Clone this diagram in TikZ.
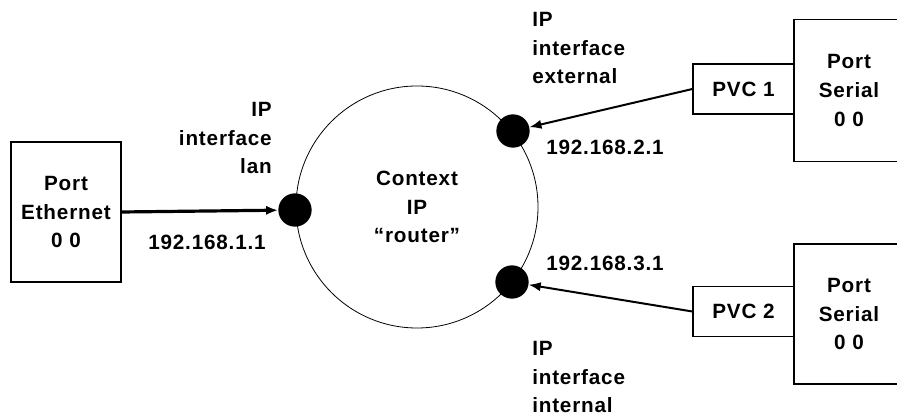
\documentclass[tikz,border=0pt]{standalone}
\usepackage{fontspec}
\setmainfont{Liberation Sans}[LetterSpace=4]
\usetikzlibrary{arrows.meta}
\begin{document}
\begin{tikzpicture}[x=0.75pt,y=-0.75pt,
    every node/.style={font=\fontsize{15.5}{21.5}\selectfont\bfseries},
    portbox/.style={draw,line width=0.9pt,minimum width=82.5pt,minimum height=105pt,align=center,inner sep=0pt},
    pvcbox/.style={draw,line width=0.9pt,minimum width=75.75pt,minimum height=37.5pt,inner sep=0pt},
    ipdot/.style={circle,fill=black,minimum size=25pt,inner sep=0pt},
    lbl/.style={inner sep=0pt},
    link/.style={-{Latex[length=9pt,width=7pt]}}]
    \useasboundingbox (0,0) rectangle (897,416);
    \node[portbox] (eth) at (66,212) {Port\\Ethernet\\0 0};
    \node[portbox,minimum height=107pt] (ser1) at (849,90.5) {Port\\Serial\\0 0};
    \node[portbox] (ser2) at (849,314) {Port\\Serial\\0 0};
    \node[pvcbox] (pvc1) at (743.5,89) {PVC 1};
    \node[pvcbox] (pvc2) at (743.5,311.5) {PVC 2};
    \node[circle,draw,line width=0.6pt,minimum size=181.5pt,align=center,inner sep=0pt] (ctx) at (417,207) {Context\\IP\\“router”};
    \node[ipdot] (lan) at (295,210) {};
    \node[ipdot] (ext) at (513,131) {};
    \node[ipdot] (int) at (512,282) {};
    \node[lbl,align=right,anchor=east] (lanlbl) at (272,138) {IP\\interface\\lan};
    \node[lbl,align=left,anchor=west] (extlbl) at (532,48) {IP\\interface\\external};
    \node[lbl,align=left,anchor=west] (intlbl) at (532,377) {IP\\interface\\internal};
    \node[lbl] (lanip) at (207,242) {192.168.1.1};
    \node[lbl] (extip) at (605,147) {192.168.2.1};
    \node[lbl] (intip) at (605,263) {192.168.3.1};
    \draw[link,line width=2.4pt] (eth.east) -- (lan);
    \draw[link,line width=1.5pt] (pvc1.west) -- (ext);
    \draw[link,line width=1.5pt] (pvc2.west) -- (int);
\end{tikzpicture}
\end{document}
